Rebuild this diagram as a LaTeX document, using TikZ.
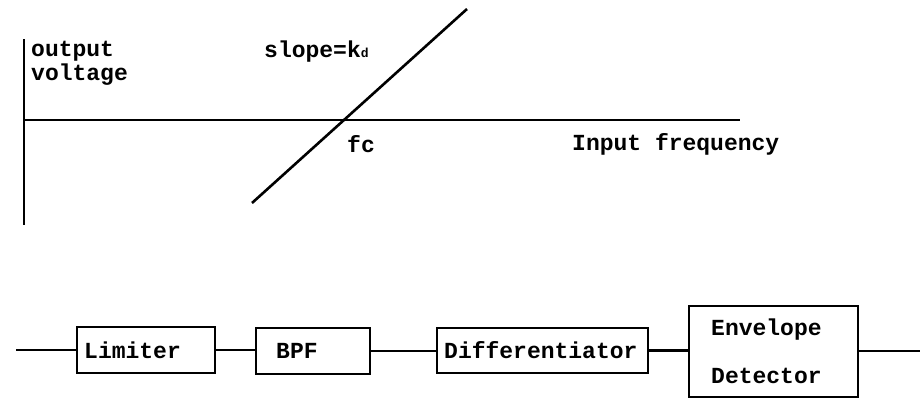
\documentclass[tikz,border=0pt]{standalone}
\usepackage{fontspec}
\setmonofont{Liberation Mono}
\begin{document}
\begin{tikzpicture}[x=1pt,y=-1pt,
  txt/.style={font=\ttfamily\bfseries\fontsize{23}{23}\selectfont, inner sep=0pt, anchor=base west},
  blk/.style={draw, line width=2.4pt, rectangle, inner sep=0pt},
  wire/.style={line width=2.4pt},
  ax/.style={line width=2.6pt}]
\useasboundingbox (0,0) rectangle (924,399);
% graph
\coordinate (vtop) at (24,39);
\coordinate (vbot) at (24,225);
\coordinate (horg) at (24,120);
\coordinate (hend) at (740,120);
\coordinate (dlo) at (252,203);
\coordinate (dhi) at (467,9);
\draw[ax] (vtop) -- (vbot);
\draw[ax] (horg) -- (hend);
\draw[ax] (dlo) -- (dhi);
\node[txt] (out1) at (31,56) {output};
\node[txt] (out2) at (31,80) {voltage};
\node[txt] (slope) at (264,57) {slope=k{\fontsize{13}{13}\selectfont d}};
\node[txt] (fc) at (347,152) {fc};
\node[txt] (inf) at (572,150) {Input frequency};
% block diagram
\node[blk, minimum width=138pt, minimum height=46pt] (lim) at (146,350) {};
\node[blk, minimum width=114pt, minimum height=46pt] (bpf) at (313,351) {};
\node[blk, minimum width=211pt, minimum height=45pt] (dif) at (542.5,350.5) {};
\node[blk, minimum width=169pt, minimum height=91pt] (env) at (773.5,351.5) {};
\node[txt] (tlim) at (84,358) {Limiter};
\node[txt] (tbpf) at (276,358) {BPF};
\node[txt] (tdif) at (444,358) {Differentiator};
\node[txt] (tenv1) at (711,335) {Envelope};
\node[txt] (tenv2) at (711,383) {Detector};
\coordinate (in) at (16,350);
\coordinate (out) at (920,351);
\draw[wire] (in) -- (lim.west);
\draw[wire] (lim.east) -- (bpf.west |- lim.east);
\draw[wire] (bpf.east) -- (dif.west |- bpf.east);
\draw[wire] (dif.east) -- (env.west |- dif.east);
\draw[wire] (env.east |- out) -- (out);
\end{tikzpicture}
\end{document}
